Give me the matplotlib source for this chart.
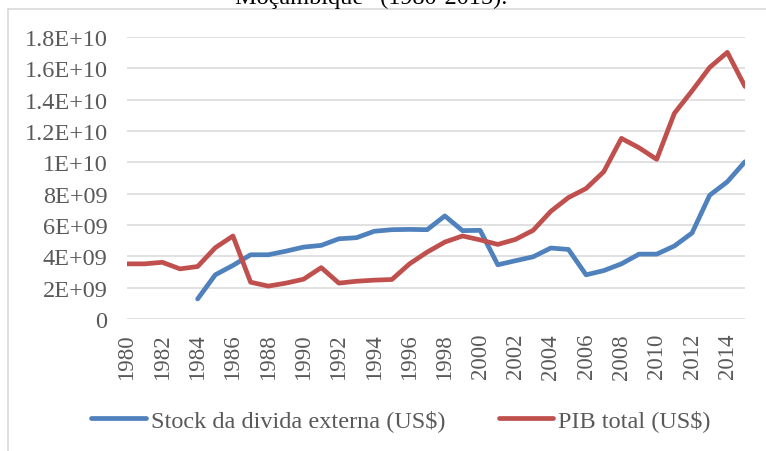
import matplotlib.pyplot as plt
from matplotlib.lines import Line2D

# Moçambique: stock da divida externa e PIB total, 1980-2015
anos = list(range(1980, 2016))

stock_divida = [None, None, None, None,
                1.28e9, 2.82e9, 3.42e9, 4.10e9, 4.10e9, 4.33e9,
                4.59e9, 4.70e9, 5.12e9, 5.19e9, 5.60e9, 5.70e9,
                5.72e9, 5.70e9, 6.58e9, 5.64e9, 5.66e9, 3.46e9,
                3.72e9, 3.97e9, 4.53e9, 4.44e9, 2.82e9, 3.09e9,
                3.52e9, 4.14e9, 4.14e9, 4.66e9, 5.49e9, 7.90e9,
                8.76e9, 10.04e9]

pib_total = [3.52e9, 3.52e9, 3.62e9, 3.20e9, 3.35e9, 4.55e9,
             5.30e9, 2.35e9, 2.10e9, 2.29e9, 2.54e9, 3.28e9,
             2.29e9, 2.41e9, 2.48e9, 2.52e9, 3.52e9, 4.27e9,
             4.91e9, 5.30e9, 5.05e9, 4.76e9, 5.08e9, 5.66e9,
             6.87e9, 7.75e9, 8.33e9, 9.40e9, 11.53e9, 10.93e9,
             10.19e9, 13.13e9, 14.56e9, 16.06e9, 17.02e9, 14.84e9]

y_ticks = [0, 2e9, 4e9, 6e9, 8e9, 1e10, 1.2e10, 1.4e10, 1.6e10, 1.8e10]
y_labels = ['0', '2E+09', '4E+09', '6E+09', '8E+09', '1E+10',
            '1.2E+10', '1.4E+10', '1.6E+10', '1.8E+10']

azul = '#4F81BD'
vermelho = '#C0504D'
cinza = '#595959'

plt.rcParams['font.family'] = ['Liberation Serif', 'DejaVu Serif']

fig = plt.figure(figsize=(7.66, 4.52), dpi=100)
ax = fig.add_axes([127 / 766, 1 - 320 / 452, (745 - 127) / 766, (320 - 38) / 452])

ax.plot(anos, stock_divida, color=azul, lw=3.4, solid_capstyle='round',
        solid_joinstyle='round', label='Stock da divida externa (US$)')
ax.plot(anos, pib_total, color=vermelho, lw=3.4, solid_capstyle='round',
        solid_joinstyle='round', label='PIB total (US$)')

ax.set_xlim(1980, 2015)
ax.set_ylim(0, 1.8e10)
ax.set_yticks(y_ticks)
ax.set_yticklabels(y_labels)
ax.set_xticks(anos[::2])
ax.set_xticklabels([str(a) for a in anos[::2]], rotation=90)
ax.tick_params(axis='both', length=0, labelcolor=cinza)
ax.tick_params(axis='y', pad=14, labelsize=17.5)
ax.tick_params(axis='x', pad=10, labelsize=16.5)

ax.grid(axis='y', color='#D9D9D9', lw=1.1)
ax.set_axisbelow(True)
for s in ax.spines.values():
    s.set_visible(False)

leg = fig.legend(loc='center', bbox_to_anchor=(401 / 766, 1 - 421 / 452), ncol=2,
                 frameon=False, fontsize=17.5, handlelength=2.25,
                 handletextpad=0.2, columnspacing=2.2, borderaxespad=0)
for t in leg.get_texts():
    t.set_color(cinza)

# moldura da area do grafico e titulo cortado
fig.add_artist(Line2D([7.5 / 766, 7.5 / 766], [0, 1 - 9.5 / 452],
                      transform=fig.transFigure, color='#D9D9D9', lw=1.2))
fig.add_artist(Line2D([7.5 / 766, 1], [1 - 9.5 / 452, 1 - 9.5 / 452],
                      transform=fig.transFigure, color='#D9D9D9', lw=1.2))
fig.text(235 / 766, 1 - 4 / 452, 'Moçambique” (1980-2015).', fontsize=17.5,
         color='black', ha='left', va='baseline')

fig.savefig('out.png', dpi=100)
